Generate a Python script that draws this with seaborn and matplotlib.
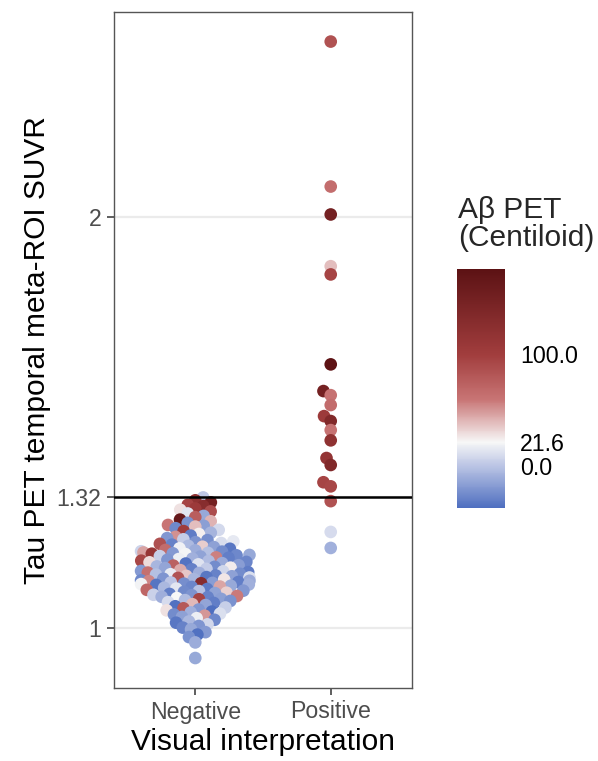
import pandas as pd
import seaborn as sns
import matplotlib
matplotlib.use("Agg")
import matplotlib.pyplot as plt
from matplotlib.colors import LinearSegmentedColormap, Normalize
from matplotlib.cm import ScalarMappable

# ---- data ----
groups = ["Negative", "Positive"]

neg_suvr = [1.318, 1.311, 1.306, 1.300, 1.297, 1.291,
            1.288, 1.284, 1.279, 1.273, 1.270, 1.264, 1.260, 1.256, 1.251,
            1.249, 1.247, 1.243, 1.239, 1.236, 1.232, 1.229, 1.225, 1.222, 1.219, 1.216, 1.214, 1.211,
            1.209, 1.207, 1.205, 1.203, 1.200, 1.198, 1.197, 1.194, 1.193, 1.190, 1.189, 1.187,
            1.186, 1.184, 1.183, 1.182, 1.181, 1.180, 1.178,
            1.177, 1.175, 1.174, 1.172, 1.171, 1.169, 1.168, 1.166, 1.164, 1.163, 1.161, 1.160,
            1.158, 1.157, 1.155, 1.153, 1.152, 1.150, 1.149, 1.147, 1.146, 1.144, 1.143, 1.141,
            1.139, 1.138, 1.136, 1.135, 1.134, 1.132, 1.131, 1.130, 1.128, 1.127, 1.126, 1.124,
            1.123, 1.122, 1.120, 1.119, 1.118, 1.116, 1.115, 1.114, 1.112, 1.111, 1.110, 1.109,
            1.108, 1.107, 1.106, 1.105,
            1.103, 1.101, 1.100, 1.098, 1.096, 1.095, 1.093, 1.091, 1.090, 1.088, 1.086, 1.085,
            1.083, 1.081, 1.080, 1.078, 1.076, 1.075, 1.073, 1.071, 1.070, 1.068,
            1.066, 1.063, 1.061, 1.058, 1.056, 1.053, 1.050, 1.048, 1.045, 1.043, 1.040, 1.038,
            1.035, 1.033, 1.030,
            1.027, 1.024, 1.020, 1.016, 1.013, 1.009, 1.005, 1.001, 0.997,
            0.990, 0.984, 0.978, 0.965,
            0.927]
neg_cl = [2, 118, 150, 96, 128, 105,
          28, 88, 14, -12, 76, 165, 42, -22, 60,
          -16, 38, -26, 9, 102, -7, 24, -31, 52, -19, 4, -23, 16,
          -21, 11, 86, -28, -4, 34, -15, 19, -33, 66, -10, 7,
          -24, 47, -2, -18, 112, 21, -12,
          -26, 5, -14, 57, -30, -8, 18, -20, 92, -3, -27, 30,
          -11, -35, 13, -17, 74, -6, -24, 25, -13, 3, -29, 44,
          -18, 8, -31, 63, -9, -24, 17, -2, -28, 36, -15, -33,
          12, 84, -20, -6, 27, -26, -11, 55, -30, 1, -17, 130,
          -23, 20, -8, -34,
          -12, 46, -27, -5, 15, -32, 70, -19, -1, -25, 33, -14,
          -30, 6, -21, 58, -9, -28, 22, -16, 95, -3,
          -22, 10, -30, 40, -13, -36, 5, 80, -19, 28, -38, -8,
          12, -24, 50,
          -15, 18, -26, -5, -33, 8, -20, -28, -12,
          -18, -36, -22, -10,
          -12]

pos_suvr = [2.428, 2.075, 2.007, 1.881, 1.861, 1.642, 1.577, 1.567, 1.543, 1.516,
            1.504, 1.482, 1.457, 1.414, 1.397, 1.355, 1.345, 1.309, 1.234, 1.195]
pos_cl = [85, 65, 150, 38, 95, 175, 150, 62, 66, 105,
          135, 62, 120, 115, 135, 95, 92, 85, 10, -8]

threshold = 1.32
y_ticks = [1, 1.32, 2]
y_ticklabels = ["1", "1.32", "2"]
cl_lo, cl_hi = -37, 176
cbar_ticks = [0.0, 21.6, 100.0]
cbar_labels = ["0.0", "21.6", "100.0"]
color_stops = [(-37, "#4f6fc0"), (0, "#bac4e4"), (21.6, "#f7f7f7"),
               (60, "#c87474"), (100, "#a13d3d"), (176, "#5c1214")]

df = pd.DataFrame({
    "group": [groups[0]] * len(neg_suvr) + [groups[1]] * len(pos_suvr),
    "suvr": neg_suvr + pos_suvr,
    "cl": neg_cl + pos_cl,
})

sns.set_theme(style="white")
plt.rcParams["font.family"] = ["Liberation Sans", "DejaVu Sans"]

cmap = LinearSegmentedColormap.from_list(
    "centiloid", [((v - cl_lo) / (cl_hi - cl_lo), c) for v, c in color_stops])
norm = Normalize(vmin=cl_lo, vmax=cl_hi)

fig = plt.figure(figsize=(5.98, 7.61), dpi=100)
ax = fig.add_axes([114 / 598, 1 - 688 / 761, 298 / 598, 676 / 761])

# swarm laid out with small markers, then drawn larger so points overlap
layout_size = 5.8
point_size = 9.1
sns.swarmplot(data=df, x="group", y="suvr", hue="cl", order=groups,
              palette=cmap, hue_norm=norm, size=layout_size, linewidth=0,
              legend=False, ax=ax, zorder=3)
ax.set_xlim(-0.6, 1.6)
ax.set_ylim(0.854, 2.5)
fig.canvas.draw()
for coll in ax.collections:
    coll.__dict__.pop("draw", None)
    coll.set_sizes([point_size ** 2])

ax.axhline(threshold, color="black", lw=1.8, zorder=5)
ax.set_yticks(y_ticks)
ax.set_yticklabels(y_ticklabels)
ax.yaxis.grid(True, color="#ebebeb", lw=1.6)
ax.xaxis.grid(False)
ax.set_axisbelow(True)
for sp in ax.spines.values():
    sp.set_color("#555555")
    sp.set_linewidth(1.0)
ax.tick_params(axis="both", length=5, width=1.1, color="#333333",
               labelsize=16.7, labelcolor="#4d4d4d", pad=4,
               left=True, bottom=True)
ax.set_xlabel("Visual interpretation", fontsize=21.5, color="black", labelpad=3)
ax.set_ylabel("Tau PET temporal meta-ROI SUVR", fontsize=21.5, color="black", labelpad=4)

# colour bar
cax = fig.add_axes([457 / 598, 1 - 508 / 761, 48 / 598, 239 / 761])
cb = fig.colorbar(ScalarMappable(norm=norm, cmap=cmap), cax=cax)
cb.set_ticks(cbar_ticks, labels=cbar_labels)
cb.outline.set_visible(False)
cax.tick_params(axis="y", direction="in", length=10, width=1, color="white",
                left=True, right=True, labelsize=16.7, labelcolor="black", pad=11)
fig.text(458 / 598, 1 - 196 / 761, "A\u03b2 PET\n(Centiloid)", fontsize=21.5,
         va="top", ha="left", linespacing=1.0)

fig.savefig("out.png", dpi=100)
